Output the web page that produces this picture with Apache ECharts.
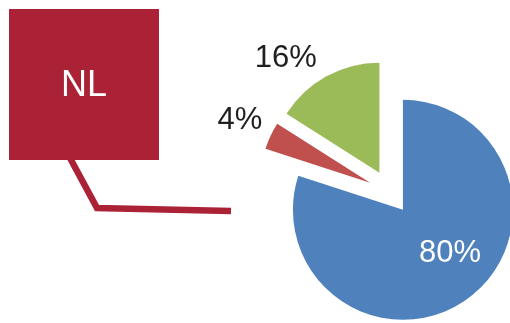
<!DOCTYPE html>
<html>
<head>
<meta charset="utf-8">
<script src="https://cdn.jsdelivr.net/npm/echarts@6/dist/echarts.min.js"></script>
<style>
  html, body { margin: 0; padding: 0; background: #fff; }
  #chart { width: 510px; height: 323px; }
</style>
</head>
<body>
<div id="chart"></div>
<script>
// Slice data (clockwise from 12 o'clock)
const sliceNames = ['Segment 1', 'Segment 2', 'Segment 3'];
const sliceValues = [80, 4, 16];
const sliceColors = ['#4F81BD', '#C0504D', '#9BBB59'];
const regionLabel = 'NL';

// Per-slice label nudges, in pixels
const labelDx = [13, -1, 0];
const labelDy = [-3, -12, 0];
const labelLineLen = [0, 8, 20];

const chart = echarts.init(document.getElementById('chart'), null, { renderer: 'canvas' });

const data = sliceNames.map((name, i) => ({
  name: name,
  value: sliceValues[i],
  selected: true,
  itemStyle: { color: sliceColors[i] },
  label: i === 0
    ? { position: 'inside', color: '#ffffff' }
    : { position: 'outside', color: '#1f1f1f' },
  labelLine: { show: false, length: labelLineLen[i], length2: 0 }
}));

const boxColor = '#AB2136';

chart.setOption({
  animation: false,
  backgroundColor: '#ffffff',
  series: [{
    type: 'pie',
    center: [390, 192],
    radius: [0, 110],
    startAngle: 90,
    clockwise: true,
    selectedMode: 'multiple',
    selectedOffset: 22,
    avoidLabelOverlap: false,
    silent: true,
    emphasis: { disabled: true },
    label: {
      show: true,
      formatter: '{c}%',
      fontFamily: 'Liberation Sans, Arial, sans-serif',
      fontSize: 31,
      distanceToLabelLine: 0
    },
    labelLayout: function (params) {
      return { dx: labelDx[params.dataIndex], dy: labelDy[params.dataIndex] };
    },
    data: data
  }],
  graphic: [
    {
      type: 'polyline',
      shape: { points: [[70, 158], [97, 208], [231, 211]] },
      style: { stroke: boxColor, lineWidth: 6.5, fill: null, lineJoin: 'miter' },
      silent: true
    },
    {
      type: 'rect',
      shape: { x: 9, y: 9, width: 150, height: 151 },
      style: { fill: boxColor },
      silent: true
    },
    {
      type: 'text',
      x: 84,
      y: 86,
      style: {
        text: regionLabel,
        fill: '#ffffff',
        font: '36px "Liberation Sans", Arial, sans-serif',
        align: 'center',
        verticalAlign: 'middle'
      },
      silent: true
    }
  ]
});
</script>
</body>
</html>
